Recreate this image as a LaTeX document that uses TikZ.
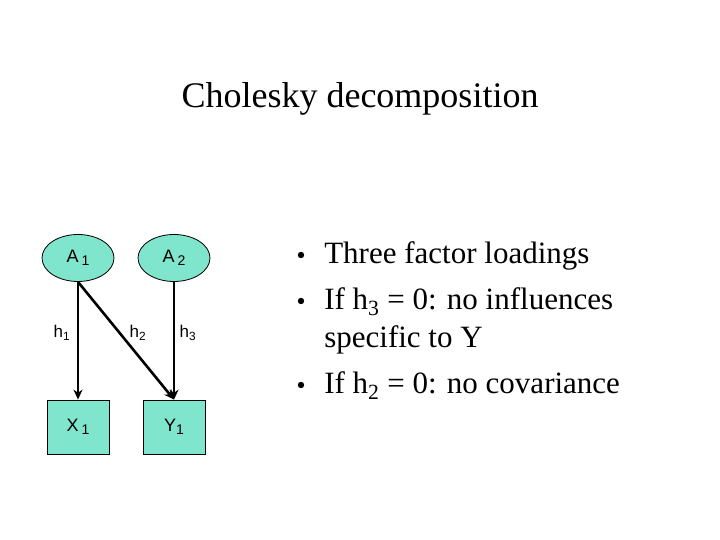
\documentclass[tikz,border=0pt]{standalone}
\usepackage{fontspec}
\setmainfont{Liberation Serif}
\setsansfont{Liberation Sans}
\usetikzlibrary{arrows.meta, positioning, shapes.geometric}
\definecolor{cteal}{RGB}{127,229,204}
\newcommand{\lowidx}[1]{\raisebox{-0.3ex}{\fontsize{14}{14}\selectfont#1}}
\tikzset{
  every picture/.style={line width=2.6pt},
  latent/.style={ellipse, draw=black, line width=0.8pt, fill=cteal, minimum width=72pt, minimum height=47pt, font=\sffamily\fontsize{18}{19}\selectfont},
  observed/.style={rectangle, draw=black, line width=0.8pt, fill=cteal, minimum width=62pt, minimum height=54pt, font=\sffamily\fontsize{18}{19}\selectfont},
  loadpath/.style={-{Stealth[length=10pt, width=9pt]}, draw=black, line width=2.6pt},
  loading/.style={font=\sffamily\fontsize{17}{18}\selectfont},
  bullet/.style={anchor=base west, font=\fontsize{31}{38}\selectfont, align=left, inner sep=0pt},
}
\begin{document}
\begin{tikzpicture}[x=1pt, y=1pt]
  \useasboundingbox (0,0) rectangle (720,540);
  \node[font=\fontsize{36}{40}\selectfont] (title) at (360,441) {Cholesky decomposition};
  % factors and variables
  \node[latent] (A1) at (78,282) {A\,\lowidx{1}};
  \node[latent] (A2) at (174,282) {A\,\lowidx{2}};
  \node[observed] (X1) at (78,113) {X\,\lowidx{1}};
  \node[observed] (Y1) at (174,113) {Y\lowidx{1}};
  % paths
  \draw[loadpath] (A1.south) -- (X1.north);
  \draw[loadpath] (A1.south) -- (Y1.north);
  \draw[loadpath] (A2.south) -- (Y1.north);
  \node[loading] (h1) at (62,207) {h\textsubscript{1}};
  \node[loading] (h2) at (138,207) {h\textsubscript{2}};
  \node[loading] (h3) at (188,207) {h\textsubscript{3}};
  % bullets
  \node[bullet] (b1) at (323,276) {Three factor loadings};
  \node[bullet] (b2) at (323,192) {If h\textsubscript{3} = 0: no influences\\specific to Y};
  \node[bullet] (b3) at (323,146) {If h\textsubscript{2} = 0: no covariance};
  \foreach \b/\dy in {b1/9,b2/47,b3/9}
    \fill ([xshift=-22pt, yshift=\dy pt]\b.base west) circle (3.2pt);
\end{tikzpicture}
\end{document}
